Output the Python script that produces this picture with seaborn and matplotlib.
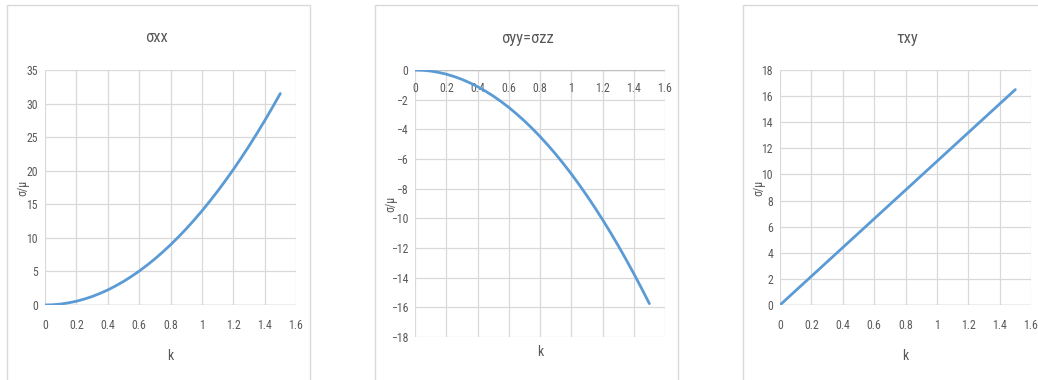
import matplotlib
matplotlib.use("Agg")
import matplotlib.pyplot as plt
import seaborn as sns
from matplotlib.patches import Rectangle
from matplotlib import font_manager

k = [0.0, 0.05, 0.1, 0.15, 0.2, 0.25, 0.3, 0.35, 0.4, 0.45, 0.5, 0.55, 0.6, 0.65, 0.7, 0.75,
     0.8, 0.85, 0.9, 0.95, 1.0, 1.05, 1.1, 1.15, 1.2, 1.25, 1.3, 1.35, 1.4, 1.45, 1.5]
sigma_xx = [0.0, 0.04, 0.14, 0.32, 0.56, 0.88, 1.26, 1.72, 2.24, 2.84, 3.5, 4.24, 5.04, 5.92, 6.86, 7.88,
            8.96, 10.12, 11.34, 12.64, 14.0, 15.44, 16.94, 18.52, 20.16, 21.88, 23.66, 25.52, 27.44, 29.44, 31.5]
sigma_yy = [0.0, -0.02, -0.07, -0.16, -0.28, -0.44, -0.63, -0.86, -1.12, -1.42, -1.75, -2.12, -2.52, -2.96,
            -3.43, -3.94, -4.48, -5.06, -5.67, -6.32, -7.0, -7.72, -8.47, -9.26, -10.08, -10.94, -11.83,
            -12.76, -13.72, -14.72, -15.75]
tau_xy = [0.0, 0.55, 1.1, 1.65, 2.2, 2.75, 3.3, 3.85, 4.4, 4.95, 5.5, 6.05, 6.6, 7.15, 7.7, 8.25,
          8.8, 9.35, 9.9, 10.45, 11.0, 11.55, 12.1, 12.65, 13.2, 13.75, 14.3, 14.85, 15.4, 15.95, 16.5]

titles = ["σxx", "σyy=σzz", "τxy"]
x_ticks = [0, 0.2, 0.4, 0.6, 0.8, 1, 1.2, 1.4, 1.6]
x_tick_labels = ["0", "0.2", "0.4", "0.6", "0.8", "1", "1.2", "1.4", "1.6"]
y_ticks_1 = [0, 5, 10, 15, 20, 25, 30, 35]
y_ticks_2 = [0, -2, -4, -6, -8, -10, -12, -14, -16, -18]
y_ticks_3 = [0, 2, 4, 6, 8, 10, 12, 14, 16, 18]
x_label = "k"
y_label = "σ/μ"

sns.set_theme(style="white")
installed = {f.name for f in font_manager.fontManager.ttflist}
candidates = ['Liberation Sans Narrow', 'DejaVu Sans Condensed', 'Roboto Condensed',
              'Open Sans Condensed', 'Noto Sans Condensed']
narrow = [c for c in candidates if c in installed]
plt.rcParams['font.family'] = narrow + ['DejaVu Sans']
have_narrow = len(narrow) > 0
fs_tick = 8.5 if have_narrow else 7.5
fs_title = 12 if have_narrow else 11

W, H = 1038, 380
fig = plt.figure(figsize=(W / 100, H / 100), dpi=100)
fig.patch.set_facecolor("white")

def fx(px):
    return px / W

def fy(py):
    return 1 - py / H

LINE = "#5b9bd5"
GRID = "#d9d9d9"
TXT = "#595959"

for x0, x1 in [(7, 310), (375, 678), (743, 1045)]:
    fig.patches.append(Rectangle((fx(x0), fy(382)), fx(x1) - fx(x0), fy(5) - fy(382),
                                 transform=fig.transFigure, fill=False,
                                 edgecolor="#d9d9d9", linewidth=1.0, zorder=0))

panels = [
    dict(box=(45, 296, 70, 305), y=sigma_xx, yt=y_ticks_1, ylim=(0, 35), title_x=157, ylab_x=23),
    dict(box=(415, 665, 70, 337), y=sigma_yy, yt=y_ticks_2, ylim=(-18, 0), title_x=527, ylab_x=391),
    dict(box=(780, 1031, 70, 305), y=tau_xy, yt=y_ticks_3, ylim=(0, 18), title_x=907, ylab_x=759),
]

for i, p in enumerate(panels):
    l, r, t, b = p["box"]
    ax = fig.add_axes([fx(l), fy(b), fx(r) - fx(l), fy(t) - fy(b)])
    ax.set_facecolor("white")
    sns.lineplot(x=k, y=p["y"], ax=ax, color=LINE, linewidth=2.0)
    ax.set_xlim(0, 1.6)
    ax.set_ylim(*p["ylim"])
    ax.set_xticks(x_ticks)
    ax.set_xticklabels(x_tick_labels)
    ax.set_yticks(p["yt"])
    ax.grid(True, color=GRID, linewidth=0.9)
    ax.set_axisbelow(True)
    for s in ax.spines.values():
        s.set_visible(False)
    ax.axhline(0, color="#bfbfbf", linewidth=1.0, zorder=1)
    ax.tick_params(axis="both", length=0, labelsize=fs_tick, colors=TXT)
    if i == 1:
        ax.xaxis.set_ticks_position("top")
        ax.tick_params(axis="x", labeltop=True, labelbottom=False, pad=-18)
        ax.xaxis.set_label_position("bottom")
        ax.set_xlabel(x_label, fontsize=10, color=TXT, labelpad=6)
    else:
        ax.tick_params(axis="x", pad=10)
        ax.set_xlabel(x_label, fontsize=10, color=TXT, labelpad=12)
    ax.tick_params(axis="y", pad=5)
    ax.set_ylabel("")
    fig.text(fx(p["ylab_x"]), fy((t + b) / 2), y_label, rotation=90, ha="center", va="center",
             fontsize=fs_tick, color=TXT)
    fig.text(fx(p["title_x"]), fy(38), titles[i], ha="center", va="center", fontsize=fs_title, color=TXT)

fig.savefig("out.png", dpi=100)
